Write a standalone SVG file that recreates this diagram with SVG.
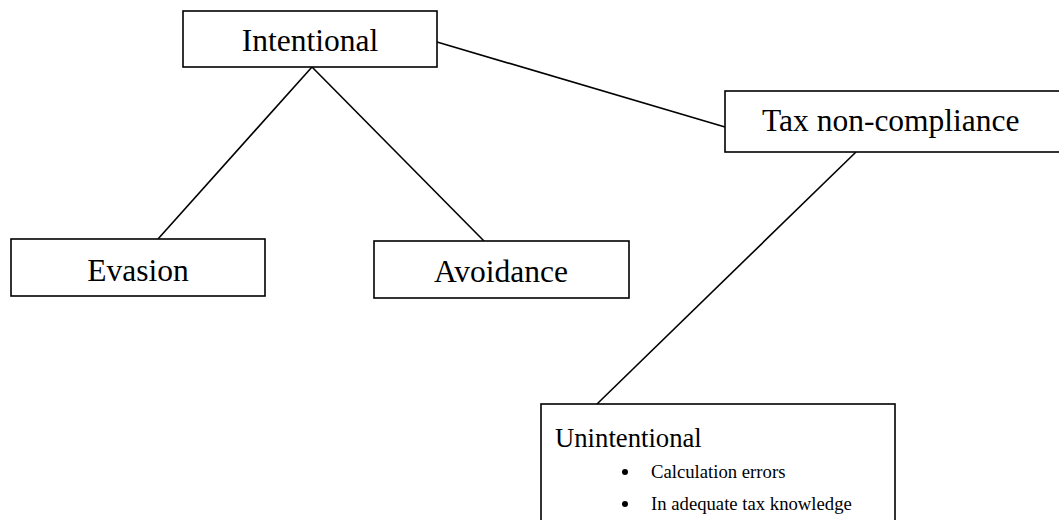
<svg xmlns="http://www.w3.org/2000/svg" width="1059" height="520" viewBox="0 0 1059 520">
<style>
.box{fill:#fff;stroke:#000;stroke-width:1.6}
.lbl{font-family:"Liberation Serif","Times New Roman",serif;font-size:31.5px;fill:#000}
.mid{text-anchor:middle}
.sub{font-family:"Liberation Serif","Times New Roman",serif;font-size:18.7px;fill:#000}
.dot{fill:#000}
.conn line{stroke:#000;stroke-width:1.6}
</style>
<rect width="1059" height="520" fill="#fff"/>
<g id="connectors" class="conn">
<line x1="312" y1="67" x2="158" y2="239"/>
<line x1="312" y1="67" x2="484" y2="241"/>
<line x1="437" y1="42" x2="725" y2="127"/>
<line x1="856" y1="152" x2="597" y2="404"/>
</g>
<g id="intentional">
<rect class="box" x="183" y="11" width="254" height="56"/>
<text class="lbl mid" x="310" y="51">Intentional</text>
</g>
<g id="tax-non-compliance">
<rect class="box" x="725" y="91" width="345" height="61"/>
<text class="lbl" x="762" y="131">Tax non-compliance</text>
</g>
<g id="evasion">
<rect class="box" x="11" y="239" width="254" height="57"/>
<text class="lbl mid" x="138" y="281">Evasion</text>
</g>
<g id="avoidance">
<rect class="box" x="374" y="241" width="255" height="57"/>
<text class="lbl mid" x="501" y="282">Avoidance</text>
</g>
<g id="unintentional">
<rect class="box" x="541" y="404" width="354" height="140"/>
<text class="lbl" x="555" y="447" style="font-size:26.7px">Unintentional</text>
<circle class="dot" cx="625" cy="472" r="3"/>
<text class="sub" x="651" y="478">Calculation errors</text>
<circle class="dot" cx="625" cy="504" r="3"/>
<text class="sub" x="651" y="510">In adequate tax knowledge</text>
</g>
</svg>
